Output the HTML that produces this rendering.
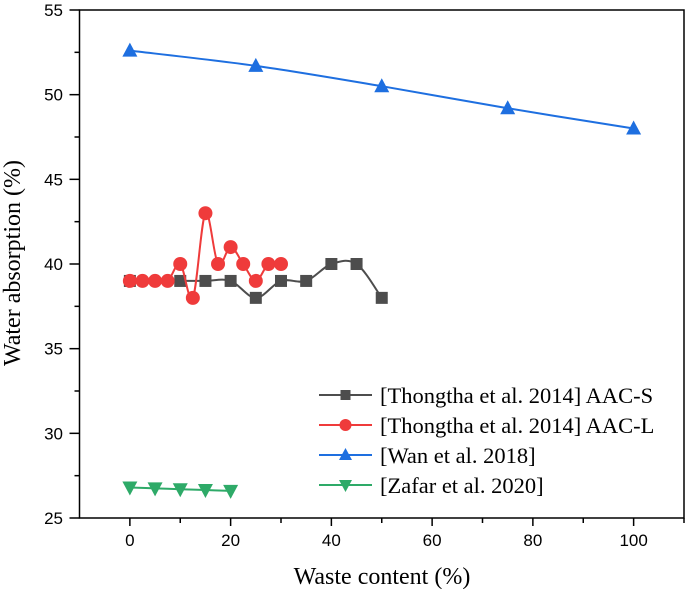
<!DOCTYPE html>
<html><head><meta charset="utf-8"><style>
html,body{margin:0;padding:0;background:#fff;}
svg{display:block;}
.tk{font-family:"Liberation Sans",Arial,sans-serif;font-size:17px;fill:#000;}
.ttl{font-family:"Liberation Serif","Times New Roman",serif;font-size:24px;fill:#000;}
.lg{font-family:"Liberation Serif","Times New Roman",serif;font-size:22.5px;fill:#000;}
</style></head><body>
<svg id="chart" width="685" height="589" viewBox="0 0 685 589" xmlns="http://www.w3.org/2000/svg">
<g id="axes"></g>
<g id="series"></g>
<g id="legend"></g>
<text class="ttl" x="382" y="584" text-anchor="middle">Waste content (%)</text>
<text class="ttl" transform="translate(20,263) rotate(-90)" text-anchor="middle">Water absorption (%)</text>
</svg>
<script>
const xTicks=[0,20,40,60,80,100];
const yTicks=[25,30,35,40,45,50,55];
const sX=[0,10,15,20,25,30,35,40,45,50];
const sY=[39,39,39,39,38,39,39,40,40,38];
const lX=[0,2.5,5,7.5,10,12.5,15,17.5,20,22.5,25,27.5,30];
const lY=[39,39,39,39,40,38,43,40,41,40,39,40,40];
const wX=[0,25,50,75,100];
const wY=[52.6,51.7,50.5,49.2,48.0];
const zX=[0,5,10,15,20];
const zY=[26.8,26.75,26.7,26.65,26.6];
const legendLabels=["[Thongtha et al. 2014] AAC-S","[Thongtha et al. 2014] AAC-L","[Wan et al. 2018]","[Zafar et al. 2020]"];

const NS="http://www.w3.org/2000/svg";
const L=79.5,R=684,T=10,B=518,xmin=-10,xmax=110,ymin=25,ymax=55;
const X=v=>L+(v-xmin)/(xmax-xmin)*(R-L);
const Y=v=>B-(v-ymin)/(ymax-ymin)*(B-T);
function mk(tag,attrs,parent){const e=document.createElementNS(NS,tag);for(const k in attrs)e.setAttribute(k,attrs[k]);parent.appendChild(e);return e;}
const axes=document.getElementById('axes');
const frame=mk('rect',{x:L,y:T,width:R-L,height:B-T,fill:'none',stroke:'#000','stroke-width':1.5},axes);


for(let v=0;v<=110;v+=10){
  const major=v%20===0;
  const t=mk('line',{x1:X(v),x2:X(v),y1:B,y2:B+(major?8:5),stroke:'#000','stroke-width':1.5},axes);
  
  
}
xTicks.forEach(v=>{
  const t=mk('text',{x:X(v),y:B+28,'text-anchor':'middle',class:'tk'},axes);t.textContent=v;
  
  
});
for(let v=25;v<=55;v+=2.5){
  const major=v%5===0;
  const t=mk('line',{x1:L-(major?10:5),x2:L,y1:Y(v),y2:Y(v),stroke:'#000','stroke-width':1.5},axes);
  
  
}
yTicks.forEach(v=>{
  const t=mk('text',{x:63,y:Y(v)+6,'text-anchor':'end',class:'tk'},axes);t.textContent=v;
  
  
});
function smooth(pts){
  let d=`M${pts[0][0]},${pts[0][1]}`;
  for(let i=0;i<pts.length-1;i++){
    const p0=pts[i-1]||pts[i],p1=pts[i],p2=pts[i+1],p3=pts[i+2]||p2;
    const c1=[p1[0]+(p2[0]-p0[0])/6,p1[1]+(p2[1]-p0[1])/6];
    const c2=[p2[0]-(p3[0]-p1[0])/6,p2[1]-(p3[1]-p1[1])/6];
    d+=` C${c1[0]},${c1[1]} ${c2[0]},${c2[1]} ${p2[0]},${p2[1]}`;
  }
  return d;
}
function marker(g,shape,cx,cy,color,sz){
  let e;
  if(shape==='sq')e=mk('rect',{x:cx-sz,y:cy-sz,width:2*sz,height:2*sz,fill:color},g);
  else if(shape==='ci')e=mk('circle',{cx:cx,cy:cy,r:sz+1,fill:color},g);
  else if(shape==='up')e=mk('polygon',{points:`${cx},${cy-sz-2} ${cx-sz-1.5},${cy+sz} ${cx+sz+1.5},${cy+sz}`,fill:color},g);
  else e=mk('polygon',{points:`${cx},${cy+sz+2} ${cx-sz-1.5},${cy-sz} ${cx+sz+1.5},${cy-sz}`,fill:color},g);
  return e;
}
const seriesG=document.getElementById('series');
const defs=[
  {xs:sX,ys:sY,color:'#4d4d4d',shape:'sq',name:'aac-s'},
  {xs:lX,ys:lY,color:'#ef3b3b',shape:'ci',name:'aac-l'},
  {xs:wX,ys:wY,color:'#1e6fe0',shape:'up',name:'wan-2018'},
  {xs:zX,ys:zY,color:'#2eaa68',shape:'dn',name:'zafar-2020'}
];
defs.forEach(s=>{
  const g=mk('g',{},seriesG);
  
  
  const pts=s.xs.map((x,i)=>[X(x),Y(s.ys[i])]);
  const p=mk('path',{d:smooth(pts),fill:'none',stroke:s.color,'stroke-width':2},g);
  
  
  pts.forEach(pt=>{
    const m=marker(g,s.shape,pt[0],pt[1],s.color,6);
    
    
  });
});
const lg=document.getElementById('legend');
defs.forEach((s,i)=>{
  const y=395+i*30;
  const g=mk('g',{},lg);
  
  
  mk('line',{x1:319,x2:372,y1:y,y2:y,stroke:s.color,'stroke-width':2},g);
  marker(g,s.shape,345.5,y,s.color,5);
  const t=mk('text',{x:380,y:y+8,class:'lg'},g);t.textContent=legendLabels[i];
});
</script>
</body></html>
